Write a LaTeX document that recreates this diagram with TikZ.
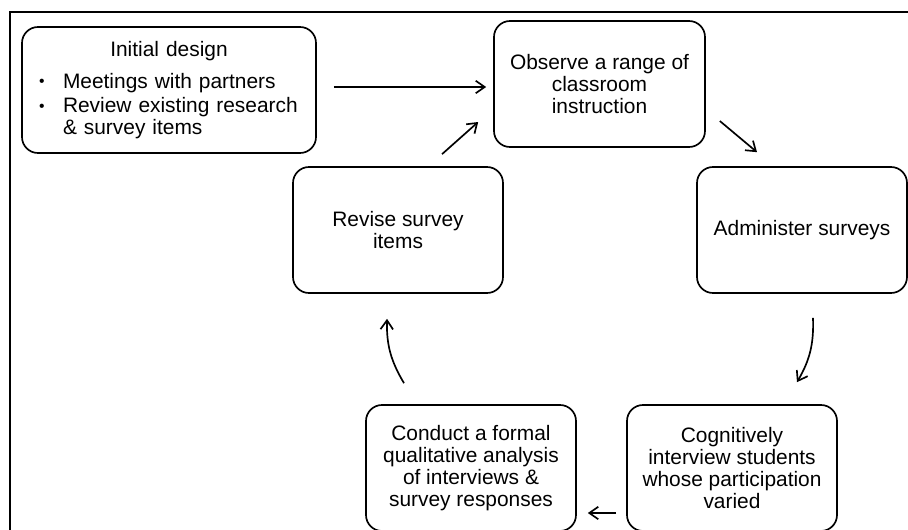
\documentclass[tikz,border=0pt]{standalone}
\usepackage{fontspec}
\setmainfont{Liberation Sans}
\usepackage{tikz}
\usepackage{graphicx}
\usetikzlibrary{positioning}
\usetikzlibrary{calc}
\usetikzlibrary{arrows.meta}
\tikzset{
	stagebox/.style={draw, line width=0.95pt, rounded corners=0.32cm, minimum width=4.2cm, minimum height=2.52cm, align=center, inner sep=0pt},
	flow/.style={-{Straight Barb[length=1.8mm,width=2.5mm]}, line width=0.95pt},
}
\newcommand{\bulletline}[1]{%
	\makebox[0.58cm][l]{\hspace{0.1cm}\raisebox{0.1ex}{\scalebox{0.75}{\textbullet}}}#1}

\begin{document}
\begin{tikzpicture}[font=\fontsize{11.9}{12.4}\selectfont]
					\clip (0,0) rectangle (18.16,10.58);
					\draw[line width=1.5pt] (0.2,-1) rectangle (19,10.34);

					\node[stagebox, minimum width=5.88cm, text width=5.4cm, align=left] (init) at (3.38,8.78) {\makebox[\linewidth]{Initial design}\\[5.7pt] \bulletline{Meetings with partners}\\[1.7pt] \bulletline{Review existing research}\\ \hspace*{0.58cm}\& survey items};
					\node[stagebox, minimum width=4.22cm] (observe) at (11.99,8.90) {Observe a range of\\classroom\\instruction};
					\node[stagebox] (revise) at (7.96,5.98) {Revise survey\\items};
					\node[stagebox] (admin) at (16.04,5.98) {Administer surveys};
					\node[stagebox] (cogn) at (14.64,1.22) {Cognitively\\interview students\\whose participation\\varied};
					\node[stagebox] (conduct) at (9.42,1.22) {Conduct a formal\\qualitative analysis\\of interviews \&\\survey responses};

					\draw[flow] ($(init.east)+(0.34,0.06)$) -- ($(observe.west)+(-0.14,-0.06)$);
					\draw[flow] ($(revise.north)+(0.88,0.24)$) -- ($(observe.west)+(-0.30,-0.76)$);
					\draw[flow] ($(observe.east)+(0.28,-0.74)$) -- ($(admin.north)+(-0.90,0.28)$);
					\draw[flow] ($(admin.south)+(0.22,-0.48)$) to[bend left=16] ($(cogn.north)+(1.30,0.44)$);
					\draw[flow] ($(cogn.west)+(-0.20,-0.90)$) -- ($(conduct.east)+(0.22,-0.90)$);
					\draw[flow] ($(conduct.north)+(-1.34,0.42)$) to[bend left=16] ($(revise.south)+(-0.22,-0.50)$);
\end{tikzpicture}
\end{document}
